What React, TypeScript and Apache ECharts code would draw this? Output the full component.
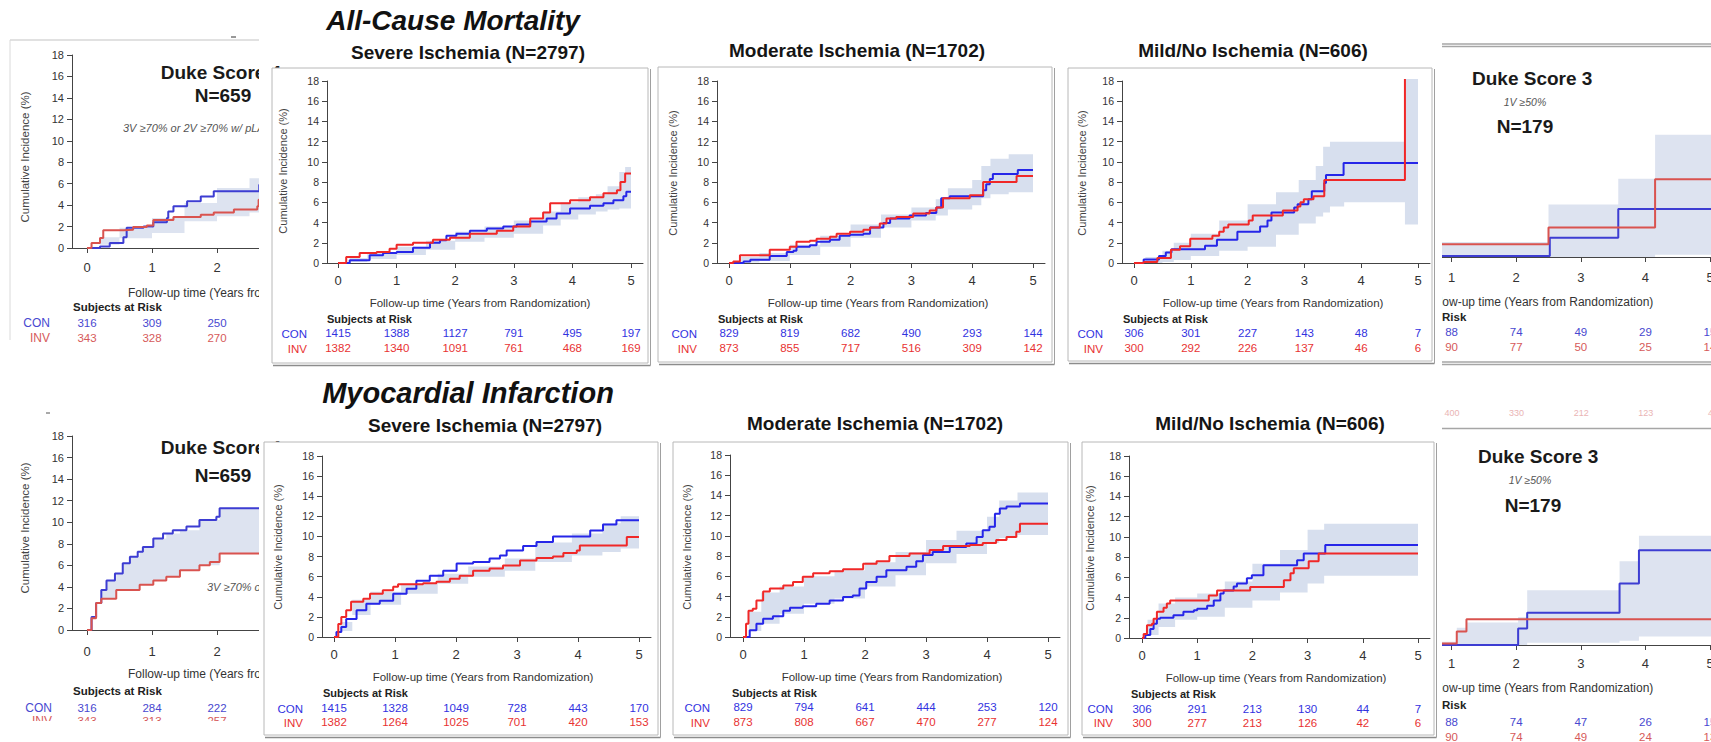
import React, { useEffect, useRef } from 'react';
import * as echarts from 'echarts';

const FONT = "'Liberation Sans', Arial, Helvetica, sans-serif";

// ================= DATA =================
const yearTicks = [0, 1, 2, 3, 4, 5];
const leftTicks = [0, 1, 2];
const rightTicks = [1, 2, 3, 4, 5];

// ---- All-Cause Mortality: Severe Ischemia (N=2797)
const acmSevereCon = [[0,0],[0.2,0.26],[0.54,0.76],[0.77,1.0],[1.0,1.1],[1.28,1.5],[1.57,2.0],[1.74,2.25],[1.85,2.7],[2.02,2.9],[2.25,3.2],[2.54,3.4],[2.82,3.6],[3.05,3.8],[3.28,4.1],[3.56,4.4],[3.73,4.9],[3.96,5.4],[4.3,5.65],[4.53,5.9],[4.7,6.2],[4.87,6.6],[4.92,7.05],[5,7.05]];
const acmSevereInv = [[0,0],[0.14,0.6],[0.37,1.0],[0.66,1.1],[0.88,1.4],[1.0,1.8],[1.28,2.0],[1.62,2.3],[1.91,2.5],[2.25,2.9],[2.71,3.2],[2.99,3.6],[3.28,4.4],[3.5,5.0],[3.62,5.9],[3.96,6.2],[4.3,6.5],[4.53,6.9],[4.76,7.2],[4.82,8.0],[4.9,8.85],[5,8.85]];
const acmSevereBand = [[0,0,0],[0.2,0.1,0.5],[0.5,0.4,1.1],[1,0.8,1.6],[1.5,1.3,2.2],[2,2.1,3.1],[2.5,2.5,3.6],[3,2.9,4.2],[3.5,3.7,5.1],[3.8,4.3,6.0],[4.1,4.8,6.5],[4.4,5.1,6.8],[4.6,5.3,7.6],[4.8,5.4,9.0],[4.9,5.4,9.5],[5,5.4,9.5]];
const acmSevereRiskCon = [1415, 1388, 1127, 791, 495, 197];
const acmSevereRiskInv = [1382, 1340, 1091, 761, 468, 169];

// ---- All-Cause Mortality: Moderate Ischemia (N=1702)
const acmModerateCon = [[0,0],[0.24,0.16],[0.35,0.33],[0.67,0.7],[0.95,1.1],[1.06,1.2],[1.11,1.6],[1.33,1.75],[1.44,2.1],[1.66,2.3],[1.82,2.7],[1.99,2.8],[2.21,2.9],[2.32,3.5],[2.54,3.95],[2.65,4.4],[2.97,4.7],[3.24,4.95],[3.41,5.5],[3.49,6.4],[3.63,6.6],[4.18,7.2],[4.23,7.8],[4.29,8.3],[4.34,8.8],[4.75,9.2],[5,9.2]];
const acmModerateInv = [[0,0],[0.07,0.16],[0.18,0.76],[0.67,1.3],[1.0,1.6],[1.11,2.1],[1.33,2.2],[1.44,2.4],[1.66,2.6],[1.77,2.9],[1.99,3.1],[2.21,3.3],[2.32,3.5],[2.48,3.9],[2.59,4.4],[2.75,4.55],[3.03,4.9],[3.3,5.2],[3.41,5.5],[3.52,6.4],[3.96,6.7],[4.18,8.0],[4.73,8.6],[5,8.6]];
const acmModerateBand = [[0,0,0],[0.2,0.05,0.6],[0.5,0.2,1.0],[1,0.8,1.8],[1.5,1.6,2.7],[2,2.5,3.8],[2.5,3.5,4.8],[3,4.2,5.5],[3.4,4.7,6.3],[3.6,5.3,7.4],[4,5.7,8.2],[4.15,6.4,9.6],[4.3,6.8,10.3],[4.6,7.0,10.75],[5,7.0,10.75]];
const acmModerateRiskCon = [829, 819, 682, 490, 293, 144];
const acmModerateRiskInv = [873, 855, 717, 516, 309, 142];

// ---- All-Cause Mortality: Mild/No Ischemia (N=606)
const acmMildCon = [[0,0],[0.17,0.35],[0.44,0.7],[0.56,1.05],[0.66,1.35],[1.25,1.7],[1.46,2.3],[1.82,3.1],[2.22,3.6],[2.35,4.2],[2.42,5.0],[2.82,5.5],[2.88,5.8],[3.07,6.3],[3.13,7.1],[3.35,7.9],[3.38,8.7],[3.69,9.9],[5,9.9]];
const acmMildInv = [[0,0],[0.17,0.1],[0.41,0.5],[0.65,1.3],[0.81,1.65],[0.99,2.4],[1.38,2.7],[1.5,3.1],[1.58,3.5],[1.66,3.8],[2.02,4.2],[2.09,4.7],[2.62,5.2],[2.88,5.6],[2.93,6.0],[2.99,6.3],[3.16,6.6],[3.35,8.2],[4.77,8.2],[4.77,18.2]];
const acmMildBand = [[0,0,0],[0.2,0,0.6],[0.5,0.1,1.2],[0.7,0.3,2.0],[1,0.7,2.9],[1.5,1.2,4.2],[2,1.6,5.8],[2.5,2.8,7.0],[2.9,3.9,8.2],[3.2,4.6,9.6],[3.33,5.0,11.5],[3.45,5.6,12.0],[3.7,6.0,12.0],[4.77,3.8,18.2],[5,3.8,18.2]];
const acmMildRiskCon = [306, 301, 227, 143, 48, 7];
const acmMildRiskInv = [300, 292, 226, 137, 46, 6];

// ---- Myocardial Infarction: Severe Ischemia (N=2797)
const miSevereCon = [[0,0],[0.04,0.5],[0.12,1.0],[0.2,1.8],[0.37,2.65],[0.53,3.3],[0.75,3.6],[0.97,4.3],[1.19,4.8],[1.35,5.6],[1.57,6.1],[1.79,6.6],[2.01,7.3],[2.28,7.45],[2.55,7.8],[2.72,8.1],[2.83,8.6],[3.1,9.05],[3.32,9.45],[3.59,10.0],[4.2,10.6],[4.41,11.2],[4.63,11.6],[5,11.6]];
const miSevereInv = [[0,0],[0.07,1.3],[0.12,2.0],[0.2,2.65],[0.28,3.5],[0.48,3.8],[0.59,4.3],[0.8,4.65],[0.97,5.0],[1.05,5.25],[1.46,5.35],[1.68,5.5],[1.9,5.8],[2.06,6.1],[2.28,6.6],[2.55,6.8],[2.77,7.1],[3.05,7.6],[3.32,7.85],[3.59,8.0],[3.76,8.35],[3.98,8.6],[4.03,9.1],[4.8,9.95],[5,9.95]];
const miSevereBand = [[0,0,0],[0.1,0.6,1.5],[0.3,2.2,3.7],[0.6,3.2,4.5],[1.1,4.3,5.3],[1.7,5.3,6.3],[2.2,6.0,7.0],[2.8,6.6,7.8],[3.3,7.45,9.4],[3.9,8.1,10.3],[4.4,8.45,11.3],[4.7,8.8,12.0],[5,8.95,12.2]];
const miSevereRiskCon = [1415, 1328, 1049, 728, 443, 170];
const miSevereRiskInv = [1382, 1264, 1025, 701, 420, 153];

// ---- Myocardial Infarction: Moderate Ischemia (N=1702)
const miModerateCon = [[0,0],[0.11,0.66],[0.22,1.3],[0.33,1.8],[0.49,2.05],[0.66,2.6],[0.77,2.9],[0.98,3.05],[1.2,3.3],[1.42,3.6],[1.64,3.95],[1.8,4.1],[1.91,4.8],[2.02,5.45],[2.19,5.95],[2.35,6.6],[2.68,6.95],[2.84,7.5],[2.95,8.1],[3.11,8.4],[3.39,8.9],[3.66,9.25],[3.83,9.9],[3.93,10.55],[4.04,10.9],[4.13,12.2],[4.21,12.7],[4.32,12.9],[4.54,13.2],[5,13.2]];
const miModerateInv = [[0,0],[0.05,1.3],[0.09,2.6],[0.16,2.8],[0.22,3.6],[0.33,4.5],[0.44,4.8],[0.66,5.1],[0.82,5.45],[0.98,5.95],[1.15,6.3],[1.42,6.5],[1.64,6.7],[1.97,7.25],[2.19,7.5],[2.4,8.0],[2.73,8.25],[3.06,8.6],[3.28,9.0],[3.72,9.1],[3.93,9.3],[4.15,9.6],[4.32,9.9],[4.48,10.4],[4.54,11.2],[5,11.2]];
const miModerateBand = [[0,0,0],[0.1,0.6,2.5],[0.3,1.3,4.4],[0.6,2.3,5.0],[1,3.3,6.0],[1.5,3.8,6.6],[2,5.0,7.4],[2.5,6.1,8.4],[3,7.3,9.6],[3.5,8.2,10.5],[4,9.3,11.9],[4.2,9.8,13.5],[4.5,10.1,14.3],[5,10.2,14.35]];
const miModerateRiskCon = [829, 794, 641, 444, 253, 120];
const miModerateRiskInv = [873, 808, 667, 470, 277, 124];

// ---- Myocardial Infarction: Mild/No Ischemia (N=606)
const miMildCon = [[0,0],[0.06,0.3],[0.15,0.9],[0.21,1.4],[0.27,1.9],[0.33,2.0],[0.57,2.25],[0.75,2.6],[0.94,2.75],[1.0,2.9],[1.18,3.2],[1.3,3.7],[1.42,4.4],[1.48,4.7],[1.66,5.1],[1.72,5.4],[1.9,5.9],[1.99,6.2],[2.2,7.2],[2.81,7.7],[2.93,8.35],[3.32,9.2],[5,9.2]];
const miMildInv = [[0,0],[0.03,0.4],[0.09,1.25],[0.18,1.4],[0.21,1.9],[0.27,2.6],[0.39,3.0],[0.45,3.4],[0.51,3.7],[1.21,4.2],[1.36,4.7],[1.96,5.05],[2.57,5.7],[2.69,6.4],[2.75,6.9],[3.02,7.6],[3.2,8.35],[5,8.35]];
const miMildBand = [[0,0,0],[0.1,0.3,1.8],[0.3,1.1,3.4],[0.6,1.8,4.0],[1,2.1,4.4],[1.5,3.0,5.6],[2,3.7,7.35],[2.5,4.5,8.7],[3,5.4,10.7],[3.3,6.15,11.3],[5,6.15,11.3]];
const miMildRiskCon = [306, 291, 213, 130, 44, 7];
const miMildRiskInv = [300, 277, 213, 126, 42, 6];

// ---- Side panels (partially visible)
const duke4AcmCon = [[0,0],[0.2,0.15],[0.35,0.47],[0.56,1.0],[0.61,1.9],[0.87,2.0],[1.02,2.4],[1.23,2.8],[1.25,3.4],[1.33,3.9],[1.54,4.35],[1.75,4.8],[1.95,5.3],[2.65,5.9],[2.9,5.9]];
const duke4AcmInv = [[0,0],[0.07,0.47],[0.2,0.93],[0.25,1.65],[0.56,1.7],[0.71,1.95],[0.92,2.1],[1.02,2.6],[1.33,2.9],[1.75,3.1],[1.95,3.3],[2.26,3.6],[2.62,3.9],[2.64,4.5],[2.9,4.5]];
const duke4AcmBand = [[0,0,0],[0.2,0.3,1.0],[0.5,0.9,1.9],[1,1.4,2.8],[1.5,2.5,4.2],[2,2.95,5.6],[2.5,3.3,6.5],[2.9,3.4,6.8]];
const duke4AcmRiskCon = [316, 309, 250];
const duke4AcmRiskInv = [343, 328, 270];

const duke4MiCon = [[0,0],[0.07,1.2],[0.14,2.5],[0.22,3.7],[0.3,4.6],[0.43,5.25],[0.55,6.2],[0.66,6.8],[0.78,7.25],[0.86,7.7],[1.02,8.5],[1.17,8.95],[1.32,9.25],[1.53,9.6],[1.73,10.2],[1.99,10.5],[2.04,11.3],[2.9,11.3]];
const duke4MiInv = [[0,0],[0.07,1.1],[0.14,2.5],[0.22,2.9],[0.45,3.7],[0.81,4.2],[1.02,4.6],[1.22,4.95],[1.43,5.55],[1.73,6.0],[1.89,6.3],[2.04,7.1],[2.9,7.1]];
const duke4MiBand = [[0,0,0],[0.07,1.1,1.2],[0.14,2.5,2.5],[0.22,2.9,3.7],[0.3,2.9,4.6],[0.45,3.7,5.25],[0.55,3.7,6.2],[0.66,3.7,6.8],[0.81,4.2,7.25],[0.86,4.2,7.7],[1.02,4.6,8.5],[1.22,4.95,8.95],[1.43,5.55,9.25],[1.73,6.0,10.2],[2.04,7.1,11.3],[2.9,7.1,11.3]];
const duke4MiRiskCon = [316, 284, 222];
const duke4MiRiskInv = [343, 313, 257];

const duke3AcmCon = [[0,0.1],[2.52,1.8],[3.58,4.47],[5.2,4.47]];
const duke3AcmInv = [[0,0],[0.5,1.2],[2.5,2.75],[4.15,7.26],[5.2,7.26]];
const duke3AcmBand = [[0,0,1.4],[2.5,0,4.9],[3.58,0,7.3],[4.15,0.2,11.4],[5.2,0.2,11.4]];
const duke3AcmRiskCon = [88, 74, 49, 29, 15];
const duke3AcmRiskInv = [90, 77, 50, 25, 14];

const duke3MiCon = [[0,0],[2.03,1.55],[2.17,3.0],[3.6,5.74],[3.9,8.84],[5.2,8.84]];
const duke3MiInv = [[0,0],[0.7,0.15],[1.08,1.25],[1.23,2.4],[5.2,2.4]];
const duke3MiBand = [[0,0,0.3],[1.08,0,1.6],[1.23,0,2.1],[2.03,0,2.6],[2.17,0.2,5.1],[3.6,0.4,7.8],[3.9,0.8,10.2],[5.2,0.8,10.2]];
const duke3MiRiskCon = [88, 74, 47, 26, 15];
const duke3MiRiskInv = [90, 74, 49, 24, 13];

const faintRowAbove = ['400', '330', '212', '123', '4'];

// ================= STYLE / LAYOUT =================
const C = {
  blue: '#2626e8', red: '#f02828', band: '#d7dfee',
  blueTxt: '#3232df', redTxt: '#e83232',
  pBlue: '#3d3dd2', pRed: '#d9534f', pBand: '#dde3f0',
  pBlueTxt: '#4848d0', pRedTxt: '#d65a5a',
};

type Panel = {
  L: { axisX: number; x0: number; ppy: number; end: number; top: number; zeroY: number };
  ticks: number[];
  con: number[][]; inv: number[][]; band: number[][];
  riskCon: number[]; riskInv: number[];
  lbl: { tickLH: number; gap: number; rowLH: number };
  central: boolean; showY: boolean;
};

const CL = { tickLH: 18, gap: 36.5, rowLH: 15 };

const panels: Panel[] = [
  { L: { axisX: 327, x0: 338, ppy: (631 - 338) / 5, end: 643, top: 81, zeroY: 263 }, ticks: yearTicks, con: acmSevereCon, inv: acmSevereInv, band: acmSevereBand, riskCon: acmSevereRiskCon, riskInv: acmSevereRiskInv, lbl: CL, central: true, showY: true },
  { L: { axisX: 717, x0: 729, ppy: (1033 - 729) / 5, end: 1045, top: 81, zeroY: 263 }, ticks: yearTicks, con: acmModerateCon, inv: acmModerateInv, band: acmModerateBand, riskCon: acmModerateRiskCon, riskInv: acmModerateRiskInv, lbl: CL, central: true, showY: true },
  { L: { axisX: 1122, x0: 1134, ppy: (1418 - 1134) / 5, end: 1430, top: 81, zeroY: 263 }, ticks: yearTicks, con: acmMildCon, inv: acmMildInv, band: acmMildBand, riskCon: acmMildRiskCon, riskInv: acmMildRiskInv, lbl: CL, central: true, showY: true },
  { L: { axisX: 322, x0: 334, ppy: (639 - 334) / 5, end: 651, top: 456, zeroY: 637 }, ticks: yearTicks, con: miSevereCon, inv: miSevereInv, band: miSevereBand, riskCon: miSevereRiskCon, riskInv: miSevereRiskInv, lbl: { tickLH: 18, gap: 37.5, rowLH: 14 }, central: true, showY: true },
  { L: { axisX: 730, x0: 743, ppy: (1048 - 743) / 5, end: 1060, top: 455, zeroY: 637 }, ticks: yearTicks, con: miModerateCon, inv: miModerateInv, band: miModerateBand, riskCon: miModerateRiskCon, riskInv: miModerateRiskInv, lbl: { tickLH: 18, gap: 36.5, rowLH: 15 }, central: true, showY: true },
  { L: { axisX: 1129, x0: 1142, ppy: (1418 - 1142) / 5, end: 1430, top: 456, zeroY: 638 }, ticks: yearTicks, con: miMildCon, inv: miMildInv, band: miMildBand, riskCon: miMildRiskCon, riskInv: miMildRiskInv, lbl: { tickLH: 18, gap: 37.5, rowLH: 14 }, central: true, showY: true },
  { L: { axisX: 72, x0: 87, ppy: 65, end: 272, top: 55, zeroY: 248 }, ticks: leftTicks, con: duke4AcmCon, inv: duke4AcmInv, band: duke4AcmBand, riskCon: duke4AcmRiskCon, riskInv: duke4AcmRiskInv, lbl: { tickLH: 22, gap: 37.5, rowLH: 15 }, central: false, showY: true },
  { L: { axisX: 72, x0: 87, ppy: 65, end: 272, top: 436, zeroY: 630 }, ticks: leftTicks, con: duke4MiCon, inv: duke4MiInv, band: duke4MiBand, riskCon: duke4MiRiskCon, riskInv: duke4MiRiskInv, lbl: { tickLH: 26, gap: 37.5, rowLH: 13 }, central: false, showY: true },
  { L: { axisX: 1387, x0: 1387, ppy: 64.6, end: 1717, top: 64, zeroY: 257 }, ticks: rightTicks, con: duke3AcmCon, inv: duke3AcmInv, band: duke3AcmBand, riskCon: duke3AcmRiskCon, riskInv: duke3AcmRiskInv, lbl: { tickLH: 24, gap: 35.5, rowLH: 15 }, central: false, showY: false },
  { L: { axisX: 1387, x0: 1387, ppy: 64.6, end: 1717, top: 452, zeroY: 645 }, ticks: rightTicks, con: duke3MiCon, inv: duke3MiInv, band: duke3MiBand, riskCon: duke3MiRiskCon, riskInv: duke3MiRiskInv, lbl: { tickLH: 20, gap: 41.5, rowLH: 15 }, central: false, showY: false },
];

function txt(x: number, y: number, text: string, o: any = {}) {
  return {
    type: 'text', x, y, z: o.z ?? 12, silent: true, rotation: o.rotation ?? 0,
    style: {
      text, fill: o.fill ?? '#222', fontSize: o.size ?? 12, fontWeight: o.weight ?? 'normal',
      fontStyle: o.italic ? 'italic' : 'normal', fontFamily: FONT,
      textAlign: o.align ?? 'center', textVerticalAlign: 'middle',
    },
  };
}

function box(x1: number, y1: number, x2: number, y2: number) {
  return [
    { type: 'rect', z: 6, silent: true, shape: { x: x1, y: y1, width: x2 - x1, height: y2 - y1 }, style: { fill: '#ffffff', stroke: '#b8b8b8', lineWidth: 1 } },
    { type: 'line', z: 6, silent: true, shape: { x1: x1 + 1, y1: y2 + 2.5, x2: x2 + 2.5, y2: y2 + 2.5 }, style: { stroke: '#8c8c8c', lineWidth: 1.3 } },
    { type: 'line', z: 6, silent: true, shape: { x1: x2 + 2.5, y1: y1 + 1, x2: x2 + 2.5, y2: y2 + 2.5 }, style: { stroke: '#a0a0a0', lineWidth: 1 } },
  ];
}

function cover(x: number, y: number, w: number, h: number) {
  return { type: 'rect', z: 5, silent: true, shape: { x, y, width: w, height: h }, style: { fill: '#ffffff' } };
}

// step-shaped confidence band, drawn through the axis scales (api.coord)
function bandRenderer(band: number[][], color: string) {
  return (params: any, api: any) => {
    if (params.dataIndex !== 0) return null;
    const n = band.length;
    const pts: number[][] = [];
    for (let k = 0; k < n; k++) {
      pts.push(api.coord([band[k][0], band[k][2]]));
      if (k + 1 < n) pts.push(api.coord([band[k + 1][0], band[k][2]]));
    }
    for (let k = n - 1; k >= 0; k--) {
      if (k + 1 < n) pts.push(api.coord([band[k + 1][0], band[k][1]]));
      pts.push(api.coord([band[k][0], band[k][1]]));
    }
    return { type: 'polygon', shape: { points: pts }, style: { fill: color, stroke: null } };
  };
}

function buildOption() {
  const grid: any[] = [], xAxis: any[] = [], yAxis: any[] = [], series: any[] = [];
  panels.forEach((p, i) => {
    const L = p.L;
    const z = p.central ? 10 : 1;
    const blueT = p.central ? C.blueTxt : C.pBlueTxt;
    const redT = p.central ? C.redTxt : C.pRedTxt;
    grid.push({ left: L.axisX, top: L.top, width: L.end - L.axisX, height: L.zeroY - L.top, containLabel: false, outerBoundsMode: 'none', show: false });
    xAxis.push({
      gridIndex: i, type: 'value', z,
      min: -(L.x0 - L.axisX) / L.ppy, max: (L.end - L.x0) / L.ppy,
      axisLine: { show: true, onZero: false, lineStyle: { color: '#444', width: 1 } },
      axisTick: { show: true, customValues: p.ticks, length: 5, lineStyle: { color: '#444' } },
      splitLine: { show: false },
      axisLabel: {
        customValues: p.ticks, margin: 8, hideOverlap: false,
        formatter: (v: number) => {
          const k = p.ticks.indexOf(Math.round(v));
          return `{t|${Math.round(v)}}\n{s| }\n{c|${p.riskCon[k]}}\n{n|${p.riskInv[k]}}`;
        },
        rich: {
          t: { fontSize: 13, color: '#333', lineHeight: p.lbl.tickLH, fontFamily: FONT },
          s: { fontSize: 4, lineHeight: p.lbl.gap },
          c: { fontSize: 11.5, color: blueT, lineHeight: p.lbl.rowLH, fontFamily: FONT },
          n: { fontSize: 11.5, color: redT, lineHeight: p.lbl.rowLH, fontFamily: FONT },
        },
      },
    });
    yAxis.push({
      gridIndex: i, type: 'value', min: 0, max: 18, interval: 2, show: p.showY, z,
      axisLine: { show: true, onZero: false, lineStyle: { color: '#444', width: 1 } },
      axisTick: { show: true, length: 5, lineStyle: { color: '#444' } },
      axisLabel: { fontSize: p.central ? 10.5 : 11, color: '#333', margin: 8, fontFamily: FONT },
      splitLine: { show: false },
    });
    series.push({
      type: 'custom', xAxisIndex: i, yAxisIndex: i, z, silent: true, clip: !p.central,
      data: p.band, encode: { x: 0, y: [1, 2] },
      renderItem: bandRenderer(p.band, p.central ? C.band : C.pBand),
    });
    const common = { type: 'line', xAxisIndex: i, yAxisIndex: i, step: 'end', symbol: 'none', silent: true, clip: !p.central, animation: false };
    series.push({ ...common, z: z + 1, data: p.con, lineStyle: { color: p.central ? C.blue : C.pBlue, width: 2 } });
    series.push({ ...common, z: z + 2, data: p.inv, lineStyle: { color: p.central ? C.red : C.pRed, width: 2 } });
  });

  const XT = 'Follow-up time (Years from Randomization)';
  const YT = 'Cumulative Incidence (%)';
  const g: any[] = [];
  // white gaps between the side images and the central boxes
  g.push(cover(259, 0, 14, 742));
  g.push(cover(1431, 0, 11, 742));
  g.push(cover(0, 721, 259, 21));
  // central boxes
  g.push(...box(272, 68, 648, 363));
  g.push(...box(658, 67, 1052, 362));
  g.push(...box(1068, 68, 1432, 361));
  g.push(...box(264, 442, 658, 735));
  g.push(...box(673, 442, 1068, 735));
  g.push(...box(1082, 442, 1434, 735));

  // main headings
  g.push(txt(453, 20, 'All-Cause Mortality', { size: 28, weight: 'bold', italic: true, fill: '#111' }));
  g.push(txt(468, 52, 'Severe Ischemia (N=2797)', { size: 19, weight: 'bold', fill: '#151515' }));
  g.push(txt(857, 50, 'Moderate Ischemia (N=1702)', { size: 19, weight: 'bold', fill: '#151515' }));
  g.push(txt(1253, 50, 'Mild/No Ischemia (N=606)', { size: 19, weight: 'bold', fill: '#151515' }));
  g.push(txt(468, 393, 'Myocardial Infarction', { size: 29, weight: 'bold', italic: true, fill: '#111' }));
  g.push(txt(485, 425, 'Severe Ischemia (N=2797)', { size: 19, weight: 'bold', fill: '#151515' }));
  g.push(txt(875, 423, 'Moderate Ischemia (N=1702)', { size: 19, weight: 'bold', fill: '#151515' }));
  g.push(txt(1270, 423, 'Mild/No Ischemia (N=606)', { size: 19, weight: 'bold', fill: '#151515' }));

  // per-panel axis titles & risk-table headers (central)
  const central = [
    { xt: [480, 303], yt: [283, 171], subj: [327, 319], rowX: 307, conY: 334, invY: 349 },
    { xt: [878, 303], yt: [673, 173], subj: [718, 319], rowX: 697, conY: 334, invY: 349 },
    { xt: [1273, 303], yt: [1082, 173], subj: [1123, 319], rowX: 1103, conY: 334, invY: 349 },
    { xt: [483, 677], yt: [278, 547], subj: [323, 693], rowX: 303, conY: 709, invY: 723 },
    { xt: [892, 677], yt: [687, 547], subj: [732, 693], rowX: 710, conY: 708, invY: 723 },
    { xt: [1276, 678], yt: [1090, 548], subj: [1131, 694], rowX: 1113, conY: 709, invY: 723 },
  ];
  central.forEach((c) => {
    g.push(txt(c.xt[0], c.xt[1], XT, { size: 11.5, fill: '#333' }));
    g.push(txt(c.yt[0], c.yt[1], YT, { size: 11, fill: '#444', rotation: Math.PI / 2 }));
    g.push(txt(c.subj[0], c.subj[1], 'Subjects at Risk', { size: 11, weight: 'bold', fill: '#222', align: 'left' }));
    g.push(txt(c.rowX, c.conY, 'CON', { size: 11.5, fill: C.blueTxt, align: 'right' }));
    g.push(txt(c.rowX, c.invY, 'INV', { size: 11.5, fill: C.redTxt, align: 'right' }));
  });

  // left side panels (Duke Score, N=659)
  const side = { z: 1 };
  g.push({ type: 'line', z: 1, silent: true, shape: { x1: 10, y1: 40, x2: 262, y2: 40 }, style: { stroke: '#c4c4c4', lineWidth: 1.2 } });
  g.push({ type: 'line', z: 1, silent: true, shape: { x1: 10, y1: 40, x2: 10, y2: 340 }, style: { stroke: '#dadada', lineWidth: 1 } });
  g.push({ type: 'line', z: 1, silent: true, shape: { x1: 231, y1: 37, x2: 236, y2: 37 }, style: { stroke: '#333', lineWidth: 1 } });
  g.push({ type: 'line', z: 1, silent: true, shape: { x1: 46, y1: 413, x2: 50, y2: 413 }, style: { stroke: '#555', lineWidth: 1 } });
  [
    { t: 72, n: 95, sub: [123, 128], xt: 293, yt: 157, subj: 307, rowX: 50, conY: 323, invY: 338 },
    { t: 447, n: 475, sub: [207, 587], xt: 674, yt: 528, subj: 691, rowX: 52, conY: 708, invY: 721 },
  ].forEach((s) => {
    g.push(txt(221, s.t, 'Duke Score 4', { ...side, size: 19, weight: 'bold', fill: '#1a1a1a' }));
    g.push(txt(223, s.n, 'N=659', { ...side, size: 19, weight: 'bold', fill: '#1a1a1a' }));
    g.push(txt(s.sub[0], s.sub[1], '3V ≥70% or 2V ≥70% w/ pLAD', { ...side, size: 11, italic: true, fill: '#555', align: 'left' }));
    g.push(txt(128, s.xt, XT, { ...side, size: 12, fill: '#333', align: 'left' }));
    g.push(txt(25, s.yt, YT, { ...side, size: 11.5, fill: '#444', rotation: Math.PI / 2 }));
    g.push(txt(73, s.subj, 'Subjects at Risk', { ...side, size: 11.5, weight: 'bold', fill: '#222', align: 'left' }));
    g.push(txt(s.rowX, s.conY, 'CON', { ...side, size: 12, fill: C.pBlueTxt, align: 'right' }));
    g.push(txt(s.rowX, s.invY, 'INV', { ...side, size: 12, fill: C.pRedTxt, align: 'right' }));
  });

  // right side panels (Duke Score 3, N=179)
  const hl = (y: number) => ({ type: 'line', z: 1, silent: true, shape: { x1: 1442, y1: y, x2: 1711, y2: y }, style: { stroke: '#a6a6a6', lineWidth: 1.5 } });
  g.push(hl(44), hl(46.5), hl(362), hl(364.5), hl(428.5));
  [
    { t: [1472, 78], s: [1525, 102], n: [1525, 126], xt: 302, subj: 317 },
    { t: [1478, 456], s: [1530, 480], n: [1533, 505], xt: 688, subj: 705 },
  ].forEach((s) => {
    g.push(txt(s.t[0], s.t[1], 'Duke Score 3', { ...side, size: 19, weight: 'bold', fill: '#1a1a1a', align: 'left' }));
    g.push(txt(s.s[0], s.s[1], '1V ≥50%', { ...side, size: 10.5, italic: true, fill: '#555' }));
    g.push(txt(s.n[0], s.n[1], 'N=179', { ...side, size: 19, weight: 'bold', fill: '#1a1a1a' }));
    g.push(txt(1423, s.xt, XT, { ...side, size: 12, fill: '#333', align: 'left' }));
    g.push(txt(1442, s.subj, 'Risk', { ...side, size: 11.5, weight: 'bold', fill: '#222', align: 'left' }));
  });
  faintRowAbove.forEach((v, k) => {
    g.push(txt(1452 + k * 64.6, 413, v, { ...side, size: 9, fill: '#eab4b4' }));
  });

  return {
    animation: false,
    backgroundColor: '#ffffff',
    textStyle: { fontFamily: FONT },
    grid, xAxis, yAxis, series,
    graphic: { elements: g },
  };
}

export default function App() {
  const ref = useRef<HTMLDivElement>(null);
  useEffect(() => {
    document.body.style.margin = '0';
    if (!ref.current) return;
    const chart = echarts.init(ref.current, null, { renderer: 'svg' });
    chart.setOption(buildOption() as any);
    return () => chart.dispose();
  }, []);
  return <div ref={ref} style={{ width: 1711, height: 742, background: '#fff' }} />;
}
